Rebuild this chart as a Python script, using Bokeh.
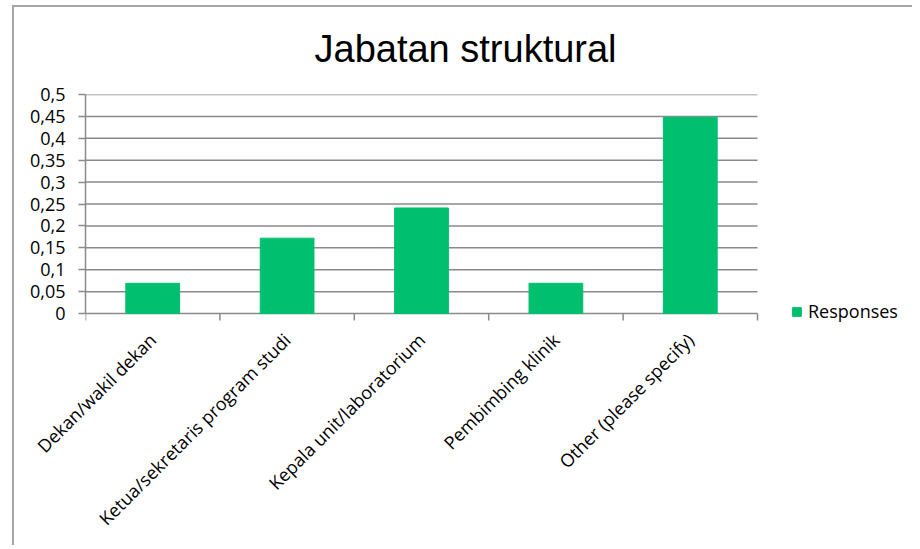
import math
import numpy as np
from bokeh.plotting import figure
from bokeh.models import Range1d, FixedTicker, Legend, LegendItem
from bokeh.embed import file_html
from bokeh.resources import INLINE

# ---- data ----
categories = ["Dekan/wakil dekan", "Ketua/sekretaris program studi",
              "Kepala unit/laboratorium", "Pembimbing klinik",
              "Other (please specify)"]
responses = [0.069, 0.172, 0.241, 0.069, 0.448]
y_ticks = [0, 0.05, 0.1, 0.15, 0.2, 0.25, 0.3, 0.35, 0.4, 0.45, 0.5]
y_tick_labels = ["0", "0,05", "0,1", "0,15", "0,2", "0,25", "0,3",
                 "0,35", "0,4", "0,45", "0,5"]
title_text = "Jabatan struktural"
series_name = "Responses"

GREEN = "#00bf6f"
GRID = "#8a8a8a"
FONT = "Open Sans"

n = len(categories)
centers = (np.arange(n) + 0.5).tolist()
boundaries = list(range(n + 1))

# plot area 672 x 219 px for the data; the frame is extended to the right and
# slightly below zero so the legend (drawn inside the frame) is not clipped
plot_w, plot_h = 672, 219
frame_w = 820
y_top = 0.5
y_pad = 0.025
x_end = n * frame_w / plot_w
frame_h = plot_h * (y_top + y_pad) / y_top

W, H = 912, 545
p = figure(width=W, height=H,
           x_range=Range1d(0, x_end), y_range=Range1d(-y_pad, y_top),
           output_backend="svg", toolbar_location=None,
           min_border_left=85, min_border_right=W - 85 - frame_w,
           min_border_top=94, min_border_bottom=int(H - 94 - frame_h))
p.border_fill_color = None
p.background_fill_color = None
p.outline_line_color = None
p.styles = {"background": "linear-gradient(#a6a6a6,#a6a6a6) 12px 6px/2px 100% no-repeat, "
                          "linear-gradient(#a6a6a6,#a6a6a6) 12px 5px/100% 2px no-repeat, #ffffff"}

# title
p.title.text = title_text
p.title.text_font = "Liberation Sans"
p.title.text_font_size = "38px"
p.title.text_font_style = "normal"
p.title.text_color = "black"
p.title.align = "left"
p.title.offset = 229
p.title.standoff = 50

# grid lines and x-axis line (only across the category area)
p.segment(x0=[0] * len(y_ticks), x1=[n] * len(y_ticks), y0=y_ticks, y1=y_ticks,
          line_color=GRID, line_width=1.5)
# category boundary tick marks below the x-axis line
p.ray(x=boundaries, y=[0] * len(boundaries), length=7, length_units="screen",
      angle=-math.pi / 2, line_color=GRID, line_width=1.5)

bars = p.vbar(x=centers, top=responses, width=0.4, fill_color=GREEN, line_color=GREEN)

# y axis
p.yaxis.ticker = FixedTicker(ticks=y_ticks, minor_ticks=[])
p.yaxis.bounds = (0, y_top)
p.yaxis.major_label_overrides = {t: l for t, l in zip(y_ticks, y_tick_labels)}
p.yaxis.major_label_text_font = FONT
p.yaxis.major_label_text_font_size = "18px"
p.yaxis.major_label_text_color = "black"
p.yaxis.axis_line_color = GRID
p.yaxis.axis_line_width = 1.5
p.yaxis.major_tick_line_color = GRID
p.yaxis.major_tick_line_width = 1.5
p.yaxis.major_tick_out = 7
p.yaxis.major_tick_in = 0
p.yaxis.minor_tick_line_color = None
p.yaxis.major_label_standoff = 13

# category labels
xl = p.xaxis[0]
xl.ticker = FixedTicker(ticks=centers, minor_ticks=[])
xl.major_label_overrides = {c: l for c, l in zip(centers, categories)}
xl.major_label_orientation = math.pi / 4
xl.major_label_text_font = FONT
xl.major_label_text_font_size = "18px"
xl.major_label_text_color = "black"
xl.axis_line_color = None
xl.major_tick_line_color = None
xl.minor_tick_line_color = None
xl.major_tick_out = 0
xl.major_tick_in = 0
xl.minor_tick_out = 0
xl.minor_tick_in = 0
xl.major_label_standoff = 12

p.xgrid.visible = False
p.ygrid.visible = False

# legend
legend = Legend(items=[LegendItem(label=series_name, renderers=[bars])],
                location=(706, 1), padding=0, margin=0, spacing=0,
                glyph_width=11, glyph_height=11, label_standoff=6,
                label_text_font=FONT, label_text_font_size="18px",
                label_text_color="black", border_line_color=None,
                background_fill_color=None)
p.add_layout(legend, "center")

open("out.html", "w").write(file_html(p, INLINE))
